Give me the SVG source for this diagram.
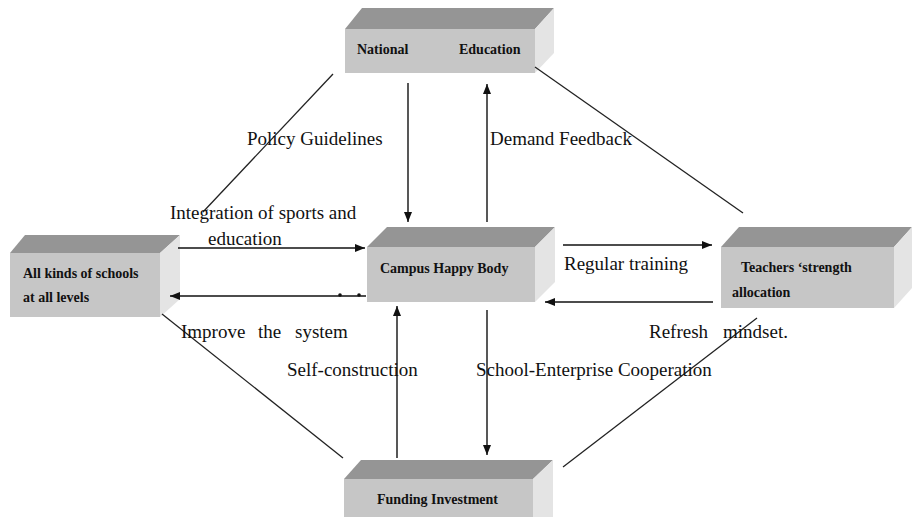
<svg xmlns="http://www.w3.org/2000/svg" width="913" height="517" viewBox="0 0 913 517">
  <style>
    .front { fill: #c6c6c6; }
    .top { fill: #959595; }
    .side { fill: #e4e4e4; }
    .label { font-family: "Liberation Serif", "Times New Roman", serif; font-weight: bold; font-size: 14px; fill: #111; }
    .edge-text { font-family: "Liberation Serif", "Times New Roman", serif; font-size: 19px; fill: #111; }
    .arrow { stroke: #111; stroke-width: 1.4; fill: none; marker-end: url(#head); }
    .link { stroke: #222; stroke-width: 1.3; fill: none; }
  </style>
  <defs>
    <marker id="head" viewBox="0 0 10 10" refX="10" refY="5" markerWidth="10" markerHeight="10" markerUnits="userSpaceOnUse" orient="auto">
      <path d="M0,1 L10,5 L0,9 Z" fill="#111"/>
    </marker>
  </defs>
  <rect width="913" height="517" fill="#fff"/>

  <!-- National Education -->
  <g id="national">
    <polygon class="top" points="345,29 362,8 554,8 535,29"/>
    <polygon class="side" points="535,29 554,8 554,53 535,73"/>
    <rect class="front" x="345" y="29" width="190" height="44"/>
    <text class="label" x="357" y="54">National</text>
    <text class="label" x="459" y="54">Education</text>
  </g>

  <!-- All kinds of schools -->
  <g id="schools">
    <polygon class="top" points="10,253 25,235 180,235 160,253"/>
    <polygon class="side" points="160,253 180,235 180,299 160,317"/>
    <rect class="front" x="10" y="253" width="150" height="64"/>
    <text class="label" x="23" y="278">All kinds of schools</text>
    <text class="label" x="23" y="302">at all levels</text>
  </g>

  <!-- Campus Happy Body -->
  <g id="campus">
    <polygon class="top" points="367,247 387,227 555,227 535,247"/>
    <polygon class="side" points="535,247 555,227 555,282 535,302"/>
    <rect class="front" x="367" y="247" width="168" height="55"/>
    <text class="label" x="380" y="273">Campus Happy Body</text>
  </g>

  <!-- Teachers strength allocation -->
  <g id="teachers">
    <polygon class="top" points="721,247 739,227 912,227 894,247"/>
    <polygon class="side" points="894,247 912,227 912,288 894,308"/>
    <rect class="front" x="721" y="247" width="173" height="61"/>
    <text class="label" x="741" y="272">Teachers ‘strength</text>
    <text class="label" x="732" y="297">allocation</text>
  </g>

  <!-- Funding Investment -->
  <g id="funding">
    <polygon class="top" points="344,479 361,460 553,460 533,479"/>
    <polygon class="side" points="533,479 553,460 553,517 533,517"/>
    <rect class="front" x="344" y="479" width="189" height="40"/>
    <text class="label" x="377" y="504">Funding Investment</text>
  </g>

  <!-- connectors, drawn over the boxes -->
  <g id="connectors">
    <line class="link" x1="333" y1="74" x2="203" y2="212"/>
    <line class="link" x1="535" y1="67" x2="743" y2="213"/>
    <line class="link" x1="162" y1="314" x2="343" y2="458"/>
    <line class="link" x1="757" y1="318" x2="563" y2="467"/>

    <line class="arrow" x1="408" y1="83" x2="408" y2="222"/>
    <line class="arrow" x1="487" y1="222" x2="487" y2="84"/>
    <line class="arrow" x1="397" y1="458" x2="397" y2="306"/>
    <line class="arrow" x1="487" y1="310" x2="487" y2="455"/>

    <line class="arrow" x1="178" y1="248" x2="365" y2="248"/>
    <line class="arrow" x1="366" y1="296" x2="170" y2="296"/>
    <circle cx="340" cy="295" r="1.8" fill="#111"/>
    <circle cx="359" cy="295" r="1.8" fill="#111"/>
    <line class="arrow" x1="563" y1="245" x2="712" y2="245"/>
    <line class="arrow" x1="713" y1="302" x2="545" y2="302"/>

    <text class="edge-text" x="247" y="145">Policy Guidelines</text>
    <text class="edge-text" x="490" y="145">Demand Feedback</text>
    <text class="edge-text" x="170" y="219">Integration of sports and</text>
    <text class="edge-text" x="208" y="245">education</text>
    <text class="edge-text" x="564" y="270">Regular training</text>
    <text class="edge-text" y="338"><tspan x="181">Improve</tspan><tspan x="258">the</tspan><tspan x="295">system</tspan></text>
    <text class="edge-text" y="338"><tspan x="649">Refresh</tspan><tspan x="723">mindset.</tspan></text>
    <text class="edge-text" x="287" y="376">Self-construction</text>
    <text class="edge-text" x="476" y="376">School-Enterprise Cooperation</text>
  </g>
</svg>
